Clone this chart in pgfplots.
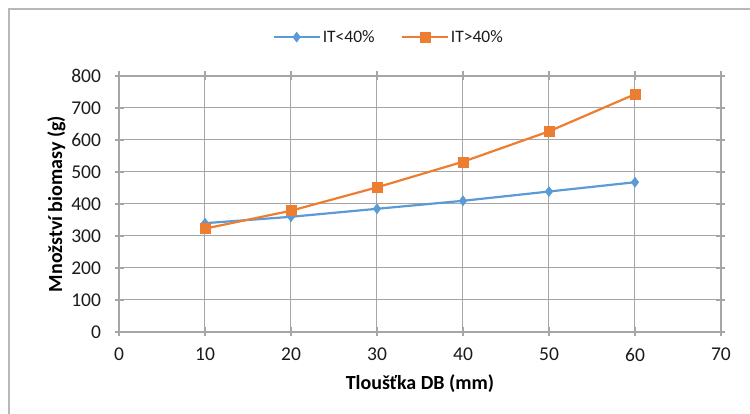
\documentclass[border=0pt]{standalone}
\usepackage{fontspec}
\setmainfont{Carlito}
\usepackage{pgfplots}
\pgfplotsset{compat=1.18}
\definecolor{serblue}{HTML}{5B9BD5}
\definecolor{serorange}{HTML}{ED7D31}
\definecolor{gridgray}{HTML}{A6A6A6}
\definecolor{txt}{HTML}{1A1A1A}
\begin{document}
\begin{tikzpicture}[x=1pt,y=1pt]
\path[use as bounding box] (0,0) rectangle (750,414);
% chart frame
\draw[gridgray!80, line width=1.5pt] (9,-5) -- (9,405) -- (760,405);
\begin{axis}[
  at={(119pt,82pt)}, anchor=south west,
  scale only axis, width=602pt, height=256pt,
  xmin=0, xmax=70, ymin=0, ymax=800,
  xtick={0,10,...,70}, ytick={0,100,...,800},
  grid=major,
  grid style={gridgray, line width=1pt},
  axis line style={gridgray, line width=1.2pt},
  tick style={gridgray, line width=1.2pt},
  tick align=center, major tick length=9pt,
  /pgf/number format/assume math mode=true,
  ticklabel style={font=\fontsize{19.5}{22}\selectfont, text=txt},
  xticklabel style={yshift=-8pt},
  yticklabel style={xshift=-10pt},
  xlabel={\textbf{Tloušťka DB (mm)}},
  ylabel={\textbf{Množství biomasy (g)}},
  label style={font=\fontsize{20}{22}\selectfont, text=black},
  xlabel style={yshift=-6pt},
  ylabel style={yshift=-1pt},
  legend columns=2,
  legend style={at={(0.448,1.152)}, anchor=center, draw=none, fill=none,
    font=\fontsize{17.5}{20}\selectfont, text=txt,
    /tikz/every even column/.append style={column sep=24pt}},
  legend image code/.code={
    \draw[#1] (0pt,0pt) -- (46pt,0pt);
    \draw[#1, only marks] plot coordinates {(23pt,0pt)};
  },
]
\addplot[serblue, line width=2.2pt, mark=diamond*, mark size=5pt,
  mark options={solid, fill=serblue, line width=0.5pt}]
  coordinates {(10,340) (20,360) (30,385) (40,410) (50,439) (60,468)};
\addlegendentry{IT<40\%}
\addplot[serorange, line width=2.2pt, mark=square*, mark size=5pt,
  mark options={solid, fill=serorange, line width=0.5pt}]
  coordinates {(10,323) (20,379) (30,452) (40,532) (50,627) (60,743)};
\addlegendentry{IT>40\%}
\end{axis}
\end{tikzpicture}
\end{document}
